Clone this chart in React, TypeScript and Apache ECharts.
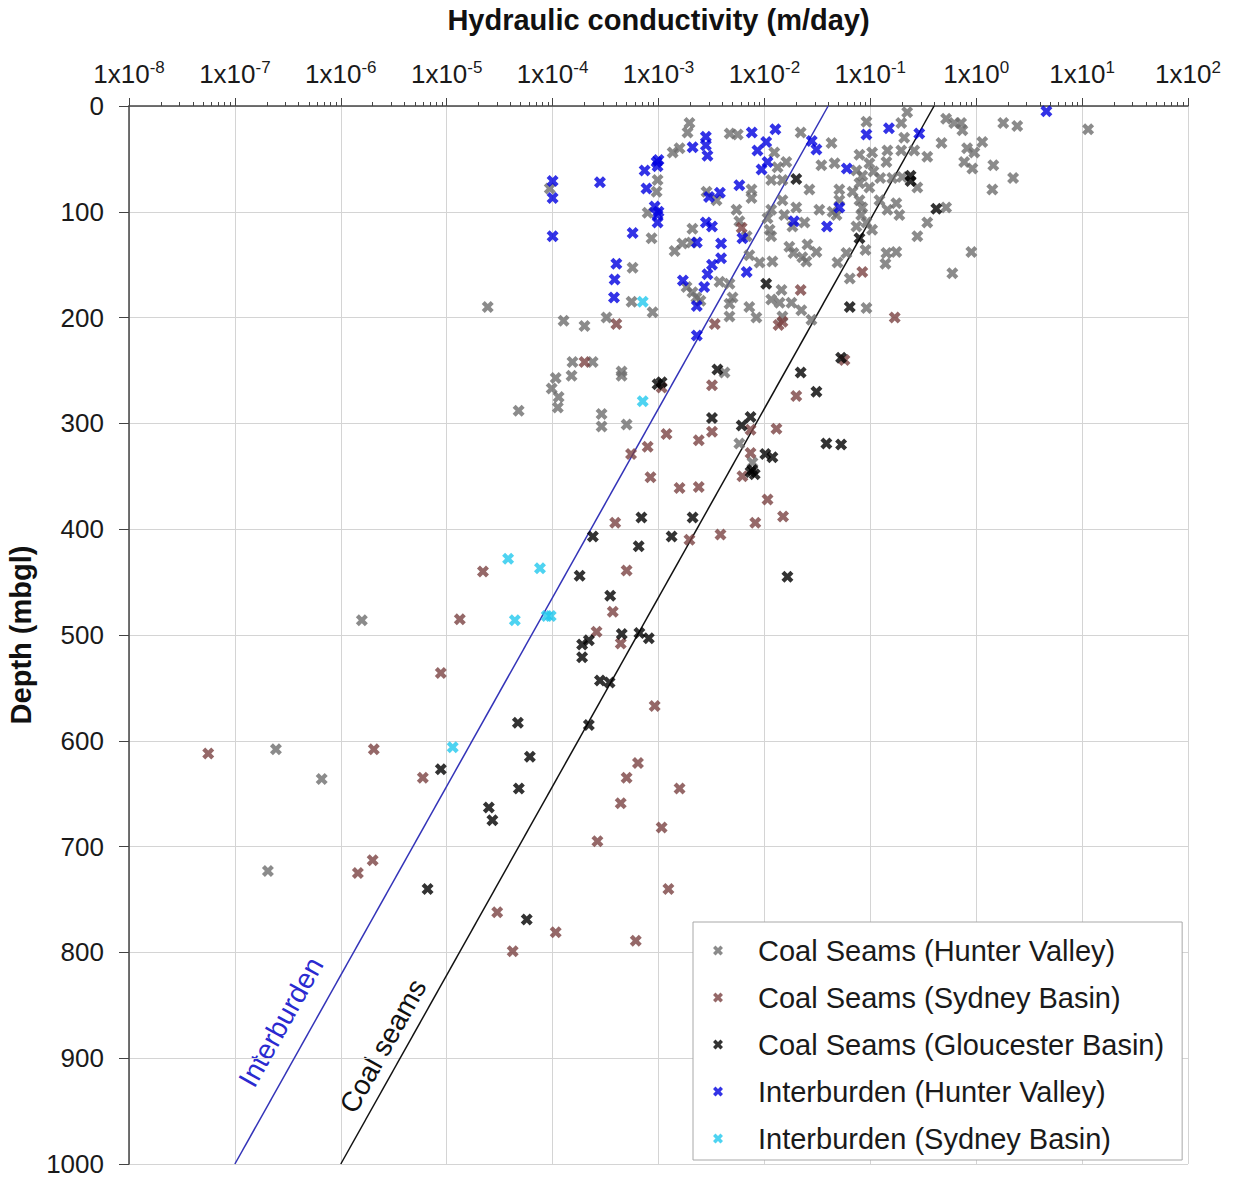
import React, { useEffect, useRef } from "react";
import * as echarts from "echarts";

// ---- data: [hydraulic conductivity (m/day), depth (mbgl)] ----
const coalHunterValley: [number, number][] = [
  [1.96e-3, 16], [1.88e-3, 25], [4.7e-3, 26], [5.6e-3, 27], [2.2e-2, 25], [4.3e-2, 35], [9.2e-2, 15], [0.196, 16], [0.223, 6], [0.209, 30],
  [0.52, 12], [0.62, 16], [0.72, 16], [0.74, 23], [0.47, 35], [1.8, 16], [2.44, 19], [11.4, 22],
  [1.36e-3, 44], [1.58e-3, 40], [1.24e-2, 44], [1.61e-2, 53], [1.33e-2, 58], [3.45e-2, 56], [4.6e-2, 54], [7.9e-2, 46], [0.104, 44], [9.8e-2, 54],
  [0.145, 42], [0.142, 53], [0.196, 42], [0.26, 42], [0.345, 48], [0.82, 40], [1.14, 34], [0.96, 44], [0.77, 53], [0.92, 59], [7.4e-2, 61],
  [8.4e-2, 66], [0.107, 62], [0.124, 68], [0.161, 68], [0.2, 67], [7.9e-2, 73], [9.8e-2, 77], [0.278, 77], [1.45, 56], [2.23, 68], [1.16e-2, 70],
  [1.48e-2, 70], [9.8e-4, 70],
  [9.6e-4, 81], [2.84e-3, 81], [3.53e-3, 89], [7.55e-3, 79], [7.55e-3, 87], [2.66e-2, 79], [5.1e-2, 79], [6.8e-2, 81], [5.1e-2, 89], [7.9e-2, 89],
  [8.4e-2, 96], [0.122, 89], [0.145, 98], [0.176, 92], [2.0e-2, 96], [1.48e-2, 89], [1.16e-2, 98], [3.3e-2, 98], [4.4e-2, 100], [5.45e-3, 98],
  [7.9e-4, 101], [1.42, 79], [0.52, 96], [0.188, 103], [9.4e-5, 78], [2.44e-5, 190],
  [1.07e-2, 106], [1.54e-2, 103], [1.84e-2, 114], [2.39e-2, 110], [4.8e-2, 103], [8.2e-2, 103], [9.2e-2, 110], [0.104, 117], [1.12e-2, 117],
  [1.72e-2, 133], [1.88e-2, 139], [2.28e-2, 143], [3.1e-2, 138], [2.49e-2, 147], [2.55e-2, 131], [5.95e-2, 139], [9.0e-2, 136], [0.142, 139],
  [0.176, 138], [0.139, 149], [4.9e-2, 148], [2.05e-3, 129], [1.68e-3, 130], [1.42e-3, 137], [2.09e-3, 116], [5.8e-3, 109], [6.8e-3, 123],
  [7.2e-3, 141], [9.0e-3, 148], [1.19e-2, 147], [1.16e-2, 123], [8.6e-4, 125], [0.345, 110], [0.278, 123], [0.9, 138], [7.4e-2, 114],
  [0.595, 158], [6.4e-2, 163],
  [1.84e-3, 171], [2.09e-3, 176], [2.28e-3, 181], [2.49e-3, 184], [3.77e-3, 166], [4.68e-3, 168], [5.0e-3, 181], [4.68e-3, 187], [4.68e-3, 199],
  [7.2e-3, 190], [8.4e-3, 200], [1.16e-2, 183], [1.45e-2, 174], [1.39e-2, 186], [1.8e-2, 186], [2.23e-2, 193], [2.78e-2, 202], [1.48e-2, 199],
  [9.2e-2, 191], [5.57e-4, 185], [8.8e-4, 195], [5.69e-4, 153], [1.27e-4, 203], [2.0e-4, 208], [3.23e-4, 200],
  [1.54e-4, 242], [2.39e-4, 242], [1.07e-4, 257], [1.51e-4, 255], [9.8e-5, 267], [1.14e-4, 275], [1.12e-4, 285], [4.78e-5, 288], [2.9e-4, 291],
  [2.9e-4, 303], [5.0e-4, 301], [4.48e-4, 251], [4.48e-4, 255], [4.2e-3, 252], [5.8e-3, 319], [7.72e-3, 337], [1.58e-6, 486], [2.44e-7, 608],
  [6.6e-7, 636], [2.05e-7, 723],
];

const coalSydneyBasin: [number, number][] = [
  [8.4e-2, 157], [2.2e-2, 174], [0.17, 200], [3.4e-3, 206], [1.36e-2, 207], [1.48e-2, 204], [6.1e-3, 115], [4.0e-4, 206], [2.0e-4, 242],
  [5.7e-2, 240], [3.2e-3, 264], [2.0e-2, 274], [1.07e-3, 266], [1.19e-3, 310], [2.4e-3, 316], [3.2e-3, 308], [7.4e-3, 306], [1.3e-2, 305],
  [7.4e-3, 328], [6.2e-3, 350], [7.9e-4, 322], [5.5e-4, 329], [8.4e-4, 351], [1.58e-3, 361], [2.4e-3, 360], [1.07e-2, 372], [1.5e-2, 388],
  [8.2e-3, 394], [3.9e-4, 394], [3.85e-3, 405], [1.96e-3, 410], [2.2e-5, 440], [5.0e-4, 439], [3.7e-4, 478], [1.33e-5, 485], [2.6e-4, 497],
  [4.4e-4, 508], [8.8e-6, 536], [9.2e-4, 567], [5.6e-8, 612], [2.05e-6, 608], [5.95e-6, 635], [6.4e-4, 621], [5.0e-4, 635], [1.58e-3, 645],
  [4.4e-4, 659], [2.65e-4, 695], [1.07e-3, 682], [2.0e-6, 713], [1.45e-6, 725], [1.24e-3, 740], [3.0e-5, 762], [1.07e-4, 781], [4.2e-5, 799],
  [6.1e-4, 789],
];

const coalGloucesterBasin: [number, number][] = [
  [0.24, 66], [0.24, 71], [0.42, 97], [2.0e-2, 69], [1.04e-2, 168], [6.4e-2, 190], [7.9e-2, 125], [5.3e-2, 238], [3.6e-3, 249], [1.07e-3, 261],
  [9.8e-4, 263], [2.2e-2, 252], [3.1e-2, 270], [3.2e-3, 295], [7.4e-3, 294], [6.1e-3, 302], [1.02e-2, 329], [1.19e-2, 332], [7.4e-3, 346],
  [7.7e-3, 344], [8.1e-3, 348], [3.85e-2, 319], [5.3e-2, 320], [6.9e-4, 389], [2.1e-3, 389], [2.4e-4, 407], [6.5e-4, 416], [1.33e-3, 407],
  [1.65e-2, 445], [1.8e-4, 444], [3.5e-4, 463], [4.5e-4, 499], [6.6e-4, 498], [8.1e-4, 503], [1.9e-4, 509], [2.2e-4, 505], [1.9e-4, 521],
  [2.8e-4, 543], [3.45e-4, 545], [4.7e-5, 583], [2.2e-4, 585], [8.8e-6, 627], [6.1e-5, 615], [4.8e-5, 645], [2.5e-5, 663], [2.7e-5, 675],
  [6.6e-6, 740], [5.7e-5, 769],
];

const interburdenHunterValley: [number, number][] = [
  [4.6, 5], [0.29, 26], [0.15, 21], [9.2e-2, 27], [6.0e-2, 59], [5.1e-2, 96], [3.9e-2, 114], [3.1e-2, 41], [2.8e-2, 33], [1.9e-2, 109],
  [1.27e-2, 22], [1.04e-2, 34], [8.6e-3, 42], [1.07e-2, 53], [9.4e-3, 60], [7.6e-3, 25], [6.8e-3, 157], [6.2e-3, 125], [5.8e-3, 75],
  [3.9e-3, 130], [3.9e-3, 144], [3.8e-3, 82], [3.2e-3, 114], [3.2e-3, 150], [3.0e-3, 86], [2.9e-3, 159], [2.8e-3, 110], [2.7e-3, 171],
  [2.8e-3, 29], [2.8e-3, 37], [2.9e-3, 47], [2.1e-3, 39], [2.3e-3, 129], [2.3e-3, 189], [2.3e-3, 217], [1.7e-3, 165], [1.0e-3, 51],
  [9.8e-4, 57], [9.6e-4, 53], [7.4e-4, 61], [7.7e-4, 78], [9.2e-4, 95], [1.0e-3, 100], [9.8e-4, 110], [5.7e-4, 120], [2.8e-4, 72],
  [1.0e-4, 71], [1.0e-4, 87], [1.0e-4, 123], [4.0e-4, 149], [3.85e-4, 164], [3.8e-4, 181], [9.8e-4, 103],
];

const interburdenSydneyBasin: [number, number][] = [
  [7.1e-4, 185], [7.1e-4, 279], [3.8e-5, 428], [7.6e-5, 437], [4.4e-5, 486], [8.8e-5, 482], [9.6e-5, 482], [1.14e-5, 606],
];

// trend lines (end points)
const interburdenTrend: [number, number][] = [[1e-7, 1000], [0.04, 0]];
const coalSeamTrend: [number, number][] = [[1e-6, 1000], [0.4, 0]];

// axis ticks
const xExponents = [-8, -7, -6, -5, -4, -3, -2, -1, 0, 1, 2];
const minorMantissas = [2, 3, 4, 5, 6, 7, 8, 9];
const depthTicks = [0, 100, 200, 300, 400, 500, 600, 700, 800, 900, 1000];

const seriesNames = [
  "Coal Seams (Hunter Valley)",
  "Coal Seams (Sydney Basin)",
  "Coal Seams (Gloucester Basin)",
  "Interburden (Hunter Valley)",
  "Interburden (Sydney Basin)",
];
const seriesColors = ["#6e6e6e", "#7a4242", "#000000", "#0000e0", "#22c8ee"];

const FONT = '"Liberation Sans", Arial, Helvetica, sans-serif';
const X_SYMBOL =
  "path://M0,2.5L2.5,0L5,2.5L7.5,0L10,2.5L7.5,5L10,7.5L7.5,10L5,7.5L2.5,10L0,7.5L2.5,5Z";

export default function App() {
  const ref = useRef<HTMLDivElement>(null);

  useEffect(() => {
    if (!ref.current) return;
    const chart = echarts.init(ref.current, null, { renderer: "svg" });

    const minorTicks: number[] = [];
    xExponents.slice(0, -1).forEach((e) => {
      minorMantissas.forEach((m) => minorTicks.push(e + Math.log10(m)));
    });

    const datasets = [
      coalHunterValley,
      coalSydneyBasin,
      coalGloucesterBasin,
      interburdenHunterValley,
      interburdenSydneyBasin,
    ];

    const scatterSeries = datasets.map((data, i) => ({
      name: seriesNames[i],
      type: "scatter",
      xAxisIndex: 0,
      yAxisIndex: 0,
      data,
      symbol: X_SYMBOL,
      symbolSize: 12,
      itemStyle: { color: seriesColors[i] },
      emphasis: { disabled: true },
      z: 3,
    }));

    chart.setOption({
      animation: false,
      backgroundColor: "#ffffff",
      grid: {
        left: 129,
        right: 47,
        top: 106,
        bottom: 14,
        containLabel: false,
        outerBoundsMode: "none",
      },
      xAxis: [
        {
          type: "log",
          logBase: 10,
          min: 1e-8,
          max: 1e2,
          position: "top",
          show: false,
        },
        {
          type: "value",
          min: xExponents[0],
          max: xExponents[xExponents.length - 1],
          interval: 1,
          position: "top",
          name: "Hydraulic conductivity (m/day)",
          nameLocation: "middle",
          nameGap: 72,
          nameTextStyle: { fontFamily: FONT, fontSize: 29, fontWeight: "bold", color: "#111" },
          axisLine: { show: true, onZero: false, lineStyle: { color: "#444", width: 1.5 } },
          axisTick: { show: true, inside: false, length: 8, lineStyle: { color: "#444" } },
          axisLabel: {
            margin: 21,
            formatter: (v: number) => `{b|1x10}{sup|${Math.round(v)}}`,
            rich: {
              b: { fontFamily: FONT, fontSize: 26, lineHeight: 26, color: "#1a1a1a", padding: [3, 0, 0, 0] },
              sup: { fontFamily: FONT, fontSize: 17, lineHeight: 17, color: "#1a1a1a", verticalAlign: "top" },
            },
          },
          splitLine: { show: true, lineStyle: { color: "#d4d4d4", width: 1 } },
        },
        {
          type: "value",
          min: xExponents[0],
          max: xExponents[xExponents.length - 1],
          position: "top",
          axisLine: { show: false, onZero: false },
          axisLabel: { show: false },
          splitLine: { show: false },
          axisTick: { show: true, inside: false, length: 4, customValues: minorTicks, lineStyle: { color: "#444" } },
        },
      ],
      yAxis: {
        type: "value",
        inverse: true,
        min: depthTicks[0],
        max: depthTicks[depthTicks.length - 1],
        interval: 100,
        name: "Depth (mbgl)",
        nameLocation: "middle",
        nameGap: 74,
        nameRotate: 90,
        nameTextStyle: { fontFamily: FONT, fontSize: 29, fontWeight: "bold", color: "#111" },
        axisLine: { show: true, onZero: false, lineStyle: { color: "#444", width: 1.5 } },
        axisTick: { show: true, inside: false, length: 10, lineStyle: { color: "#444" } },
        axisLabel: {
          fontFamily: FONT,
          fontSize: 26,
          color: "#1a1a1a",
          margin: 25,
          formatter: (v: number) => String(v),
        },
        splitLine: { show: true, lineStyle: { color: "#d4d4d4", width: 1 } },
      },
      legend: {
        data: seriesNames,
        orient: "vertical",
        left: 693,
        top: 922,
        padding: [14, 18, 7, 20],
        itemWidth: 10,
        itemHeight: 10,
        itemGap: 18,
        backgroundColor: "#ffffff",
        borderColor: "#a8a8a8",
        borderWidth: 1,
        borderRadius: 0,
        selectedMode: false,
        textStyle: { fontFamily: FONT, fontSize: 29, lineHeight: 29, color: "#1a1a1a", padding: [0, 0, 0, 30] },
        z: 10,
      },
      series: [
        {
          name: "Interburden trend",
          type: "line",
          xAxisIndex: 0,
          yAxisIndex: 0,
          data: interburdenTrend,
          symbol: "none",
          silent: true,
          lineStyle: { color: "#3333b8", width: 1.5 },
          z: 2,
        },
        {
          name: "Coal seams trend",
          type: "line",
          xAxisIndex: 0,
          yAxisIndex: 0,
          data: coalSeamTrend,
          symbol: "none",
          silent: true,
          lineStyle: { color: "#111111", width: 1.5 },
          z: 2,
        },
        ...scatterSeries,
      ],
      graphic: [
        {
          type: "text",
          x: 281,
          y: 1022,
          rotation: (60.8 * Math.PI) / 180,
          silent: true,
          style: {
            text: "Interburden",
            fill: "#2a2ad0",
            fontFamily: FONT,
            fontSize: 28,
            align: "center",
            verticalAlign: "middle",
          },
        },
        {
          type: "text",
          x: 383,
          y: 1046,
          rotation: (60.8 * Math.PI) / 180,
          silent: true,
          style: {
            text: "Coal seams",
            fill: "#111111",
            fontFamily: FONT,
            fontSize: 28,
            align: "center",
            verticalAlign: "middle",
          },
        },
      ],
    });

    return () => chart.dispose();
  }, []);

  return (
    <div
      ref={ref}
      style={{ position: "fixed", left: 0, top: 0, width: 1235, height: 1178, background: "#fff" }}
    />
  );
}
